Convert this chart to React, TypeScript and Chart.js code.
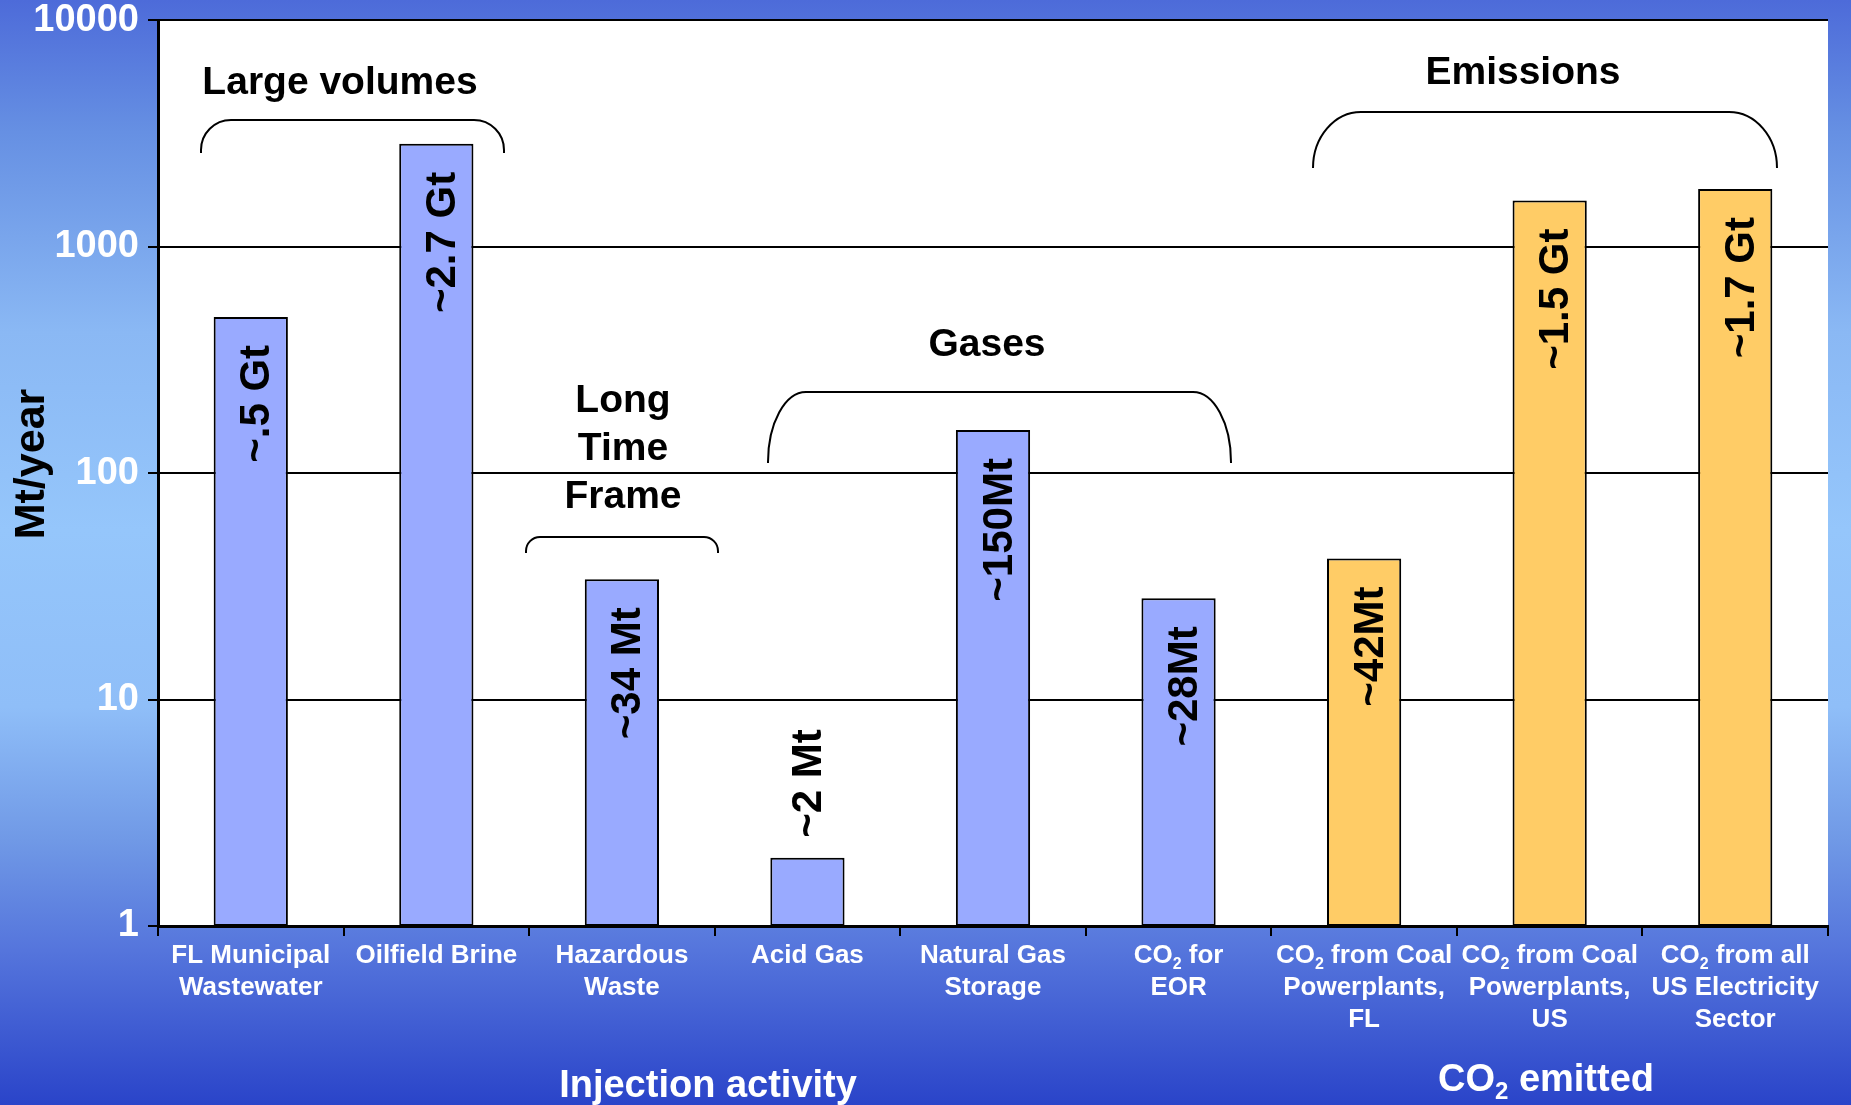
import React, { useEffect, useRef } from 'react';
import { Chart, registerables } from 'chart.js';

Chart.register(...registerables);

// ---------- data ----------
const categoryLines: string[][] = [
  ['FL Municipal', 'Wastewater'],
  ['Oilfield Brine'],
  ['Hazardous', 'Waste'],
  ['Acid Gas'],
  ['Natural Gas', 'Storage'],
  ['CO₂ for', 'EOR'],
  ['CO₂ from Coal', 'Powerplants,', 'FL'],
  ['CO₂ from Coal', 'Powerplants,', 'US'],
  ['CO₂ from all', 'US Electricity', 'Sector'],
];
const values = [490, 2850, 34, 2, 155, 28, 42, 1600, 1800];
const barLabels = ['~.5 Gt', '~2.7 Gt', '~34 Mt', '~2 Mt', '~150Mt', '~28Mt', '~42Mt', '~1.5 Gt', '~1.7 Gt'];
const groups = ['injection', 'injection', 'injection', 'injection', 'injection', 'injection', 'emitted', 'emitted', 'emitted'];
const yTicks = [1, 10, 100, 1000, 10000];
const yAxisTitle = 'Mt/year';
const groupTitles = ['Injection activity', 'CO₂ emitted'];
const annotationTexts = [['Large volumes'], ['Long', 'Time', 'Frame'], ['Gases'], ['Emissions']];

// ---------- styles ----------
const FONT = "'Liberation Sans', Arial, Helvetica, sans-serif";
const groupColors: Record<string, string> = { injection: '#99aaff', emitted: '#ffcc66' };
const W = 1851;
const H = 1105;

// annotation layout (decorations in pixels)
const annotationLayout = [
  { cx: 340, lineYs: [83], bracket: { x1: 201, x2: 504, top: 120, end: 153, rx: 30, ry: 30 } },
  { cx: 623, lineYs: [401, 449, 497], bracket: { x1: 526, x2: 718, top: 537, end: 553, rx: 14, ry: 14 } },
  { cx: 987, lineYs: [345], bracket: { x1: 768, x2: 1231, top: 392, end: 463, rx: 38, ry: 70 } },
  { cx: 1523, lineYs: [73], bracket: { x1: 1313, x2: 1777, top: 112, end: 168, rx: 48, ry: 56 } },
];
const groupTitleLayout = [
  { cx: 708, y: 1083 },
  { cx: 1546, y: 1077 },
];

function drawSubText(ctx: CanvasRenderingContext2D, text: string, cx: number, y: number, size: number) {
  const parts = text.split('₂');
  const subSize = Math.round(size * 0.62);
  const mainFont = `bold ${size}px ${FONT}`;
  const subFont = `bold ${subSize}px ${FONT}`;
  let total = 0;
  parts.forEach((p, i) => {
    ctx.font = mainFont;
    total += ctx.measureText(p).width;
    if (i < parts.length - 1) {
      ctx.font = subFont;
      total += ctx.measureText('2').width;
    }
  });
  let x = cx - total / 2;
  ctx.textAlign = 'left';
  ctx.textBaseline = 'alphabetic';
  parts.forEach((p, i) => {
    ctx.font = mainFont;
    ctx.fillText(p, x, y);
    x += ctx.measureText(p).width;
    if (i < parts.length - 1) {
      ctx.font = subFont;
      ctx.fillText('2', x, y + size * 0.22);
      x += ctx.measureText('2').width;
    }
  });
}

function drawBracket(ctx: CanvasRenderingContext2D, b: { x1: number; x2: number; top: number; end: number; rx: number; ry: number }) {
  ctx.beginPath();
  ctx.moveTo(b.x1, b.end);
  ctx.lineTo(b.x1, b.top + b.ry);
  ctx.ellipse(b.x1 + b.rx, b.top + b.ry, b.rx, b.ry, 0, Math.PI, 1.5 * Math.PI);
  ctx.lineTo(b.x2 - b.rx, b.top);
  ctx.ellipse(b.x2 - b.rx, b.top + b.ry, b.rx, b.ry, 0, 1.5 * Math.PI, 2 * Math.PI);
  ctx.lineTo(b.x2, b.end);
  ctx.strokeStyle = '#000';
  ctx.lineWidth = 2;
  ctx.stroke();
}

const backgroundPlugin = {
  id: 'bgPlugin',
  beforeDraw(chart: any) {
    const ctx = chart.ctx as CanvasRenderingContext2D;
    ctx.save();
    const g = ctx.createLinearGradient(0, 0, 0, H);
    g.addColorStop(0, '#4d6bd9');
    g.addColorStop(0.12, '#6690e3');
    g.addColorStop(0.3, '#8ab8f4');
    g.addColorStop(0.48, '#95c6fb');
    g.addColorStop(0.64, '#8fbef8');
    g.addColorStop(0.76, '#7099e6');
    g.addColorStop(0.86, '#5575dc');
    g.addColorStop(1, '#2a44c9');
    ctx.fillStyle = g;
    ctx.fillRect(0, 0, W, H);
    const a = chart.chartArea;
    ctx.fillStyle = '#ffffff';
    ctx.fillRect(a.left, a.top, a.right - a.left, a.bottom - a.top);
    ctx.restore();
  },
};

const overlayPlugin = {
  id: 'overlayPlugin',
  afterDraw(chart: any) {
    const ctx = chart.ctx as CanvasRenderingContext2D;
    const meta = chart.getDatasetMeta(0);
    const xScale = chart.scales.x;
    ctx.save();

    // bar value labels (rotated)
    ctx.fillStyle = '#000';
    ctx.font = `bold 42px ${FONT}`;
    meta.data.forEach((el: any, i: number) => {
      const text = barLabels[i];
      const w = ctx.measureText(text).width;
      const barH = el.base - el.y;
      ctx.save();
      ctx.textBaseline = 'middle';
      if (barH > w + 40) {
        ctx.translate(el.x + 7, el.y + 28);
        ctx.rotate(-Math.PI / 2);
        ctx.textAlign = 'right';
      } else {
        ctx.translate(el.x + 2, el.y - 20);
        ctx.rotate(-Math.PI / 2);
        ctx.textAlign = 'left';
      }
      ctx.fillText(text, 0, 0);
      ctx.restore();
    });

    // annotations and brackets
    ctx.fillStyle = '#000';
    ctx.textAlign = 'center';
    ctx.textBaseline = 'middle';
    ctx.font = `bold 39px ${FONT}`;
    annotationTexts.forEach((lines, k) => {
      const L = annotationLayout[k];
      lines.forEach((ln, j) => ctx.fillText(ln, L.cx, L.lineYs[j]));
      drawBracket(ctx, L.bracket);
    });

    // x category labels
    ctx.fillStyle = '#ffffff';
    categoryLines.forEach((lines, i) => {
      const cx = xScale.getPixelForValue(i);
      lines.forEach((ln, j) => {
        drawSubText(ctx, ln, cx, 963 + j * 32, 26);
      });
    });

    // group titles
    groupTitles.forEach((t, k) => {
      drawSubText(ctx, t, groupTitleLayout[k].cx, groupTitleLayout[k].y + 14, 38);
    });

    // y axis title
    ctx.fillStyle = '#000';
    ctx.font = `bold 43px ${FONT}`;
    ctx.textAlign = 'center';
    ctx.textBaseline = 'middle';
    ctx.save();
    ctx.translate(32, 464);
    ctx.rotate(-Math.PI / 2);
    ctx.fillText(yAxisTitle, 0, 0);
    ctx.restore();

    ctx.restore();
  },
};

export default function App() {
  const ref = useRef<HTMLCanvasElement | null>(null);

  useEffect(() => {
    if (!ref.current) return;
    const chart = new Chart(ref.current, {
      type: 'bar',
      data: {
        labels: categoryLines.map((c) => c.join(' ')),
        datasets: [
          {
            data: values,
            backgroundColor: groups.map((g) => groupColors[g]),
            borderColor: '#000000',
            borderWidth: 2,
            borderSkipped: false,
            barPercentage: 0.4,
            categoryPercentage: 1.0,
          },
        ],
      },
      options: {
        responsive: false,
        animation: false,
        devicePixelRatio: 1,
        layout: { padding: { left: 8, right: 23, top: 16, bottom: 0 } },
        plugins: {
          legend: { display: false },
          tooltip: { enabled: false },
          title: { display: false },
        },
        scales: {
          x: {
            type: 'category',
            offset: true,
            grid: {
              offset: true,
              drawOnChartArea: false,
              drawTicks: true,
              tickLength: 10,
              color: '#000000',
              lineWidth: 2,
            },
            border: { color: '#000000', width: 3 },
            ticks: { display: false },
            afterFit: (s: any) => {
              s.height = H - 926;
            },
          },
          y: {
            type: 'logarithmic',
            min: 1,
            max: 10000,
            afterBuildTicks: (s: any) => {
              s.ticks = yTicks.map((v) => ({ value: v }));
            },
            ticks: {
              color: '#ffffff',
              padding: 9,
              font: { family: FONT, size: 38, weight: 'bold', lineHeight: 0.6 },
              callback: (v: any) => String(v),
            },
            grid: {
              color: '#000000',
              lineWidth: 2,
              drawTicks: true,
              tickLength: 10,
            },
            border: { color: '#000000', width: 3 },
            afterFit: (s: any) => {
              s.width = 150;
            },
          },
        },
      },
      plugins: [backgroundPlugin, overlayPlugin],
    } as any);
    return () => chart.destroy();
  }, []);

  return (
    <div style={{ position: 'absolute', left: 0, top: 0, width: W, height: H }}>
      <canvas ref={ref} width={W} height={H} style={{ width: W, height: H, display: 'block' }} />
    </div>
  );
}
